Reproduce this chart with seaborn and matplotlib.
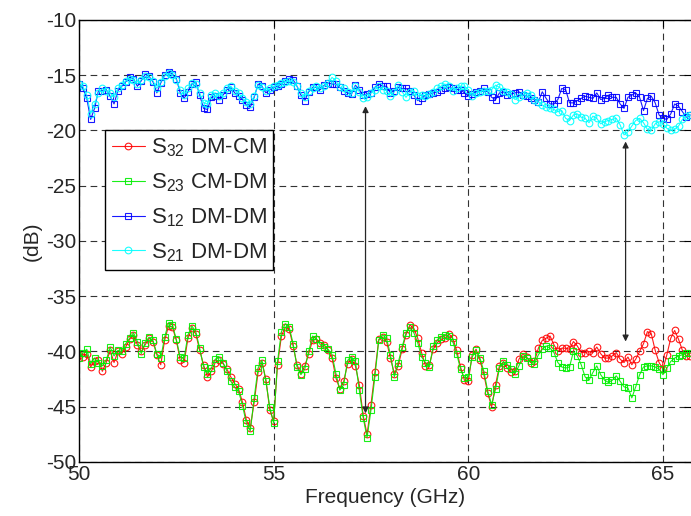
import numpy as np
import pandas as pd
import seaborn as sns
import matplotlib
matplotlib.use("Agg")
import matplotlib.pyplot as plt

# frequency grid, GHz (0.1 GHz step, 50.0 .. 65.7)
freq = np.round(50.0 + 0.1 * np.arange(158), 1)

# S32 DM-CM (red)
s32 = [
    -40.3, -40.5, -40.2, -41.4, -40.9, -40.8, -41.8, -41.0, -39.9, -41.0,
    -40.0, -40.2, -39.6, -38.9, -38.5, -39.4, -40.0, -39.4, -38.8, -39.1,
    -40.3, -41.2, -39.0, -37.7, -37.8, -39.0, -40.8, -41.0, -38.8, -37.9,
    -38.4, -39.9, -41.2, -42.3, -41.8, -41.0, -40.8, -41.1, -41.6, -42.3,
    -42.9, -43.4, -44.6, -46.2, -46.9, -44.6, -41.9, -41.0, -42.5, -45.3,
    -46.3, -41.2, -38.6, -37.8, -38.0, -39.5, -41.2, -42.0, -41.3, -40.2,
    -39.0, -38.9, -39.2, -39.4, -39.9, -40.6, -42.4, -43.4, -42.7, -41.1,
    -40.7, -41.3, -43.0, -45.8, -47.5, -44.8, -41.9, -38.9, -38.7, -39.1,
    -40.6, -42.0, -41.3, -39.8, -38.5, -37.6, -37.9, -38.8, -40.1, -41.3,
    -41.2, -39.8, -39.2, -38.9, -38.8, -38.4, -38.8, -39.9, -41.4, -42.6,
    -42.7, -40.3, -39.8, -40.8, -42.1, -43.8, -45.0, -43.0, -41.3, -41.0,
    -41.5, -41.9, -41.8, -40.7, -40.2, -40.5, -41.0, -40.9, -39.7, -39.0,
    -38.8, -38.6, -39.4, -40.0, -39.7, -39.7, -39.8, -39.1, -39.5, -40.1,
    -40.1, -40.0, -40.1, -39.6, -40.2, -40.6, -40.6, -40.4, -40.1, -40.7,
    -41.0, -40.5, -41.2, -40.7, -40.0, -39.3, -38.2, -38.4, -39.9, -41.0,
    -41.6, -40.3, -38.8, -38.1, -38.9, -39.9, -40.4, -40.4,
]

# S23 CM-DM (green)
s23 = [
    -40.6, -40.1, -39.8, -41.1, -40.6, -41.0, -41.3, -40.8, -39.6, -40.4,
    -39.9, -40.0, -39.3, -38.8, -38.3, -39.1, -40.2, -39.2, -38.7, -39.0,
    -40.2, -40.6, -38.7, -37.4, -37.6, -38.9, -40.5, -40.6, -38.5, -37.7,
    -38.2, -39.7, -41.4, -42.0, -41.5, -40.7, -40.5, -41.0, -41.8, -42.7,
    -43.2, -43.6, -44.9, -46.5, -47.2, -44.2, -41.5, -40.8, -42.7, -45.0,
    -46.5, -40.9, -38.2, -37.5, -37.8, -39.3, -41.4, -42.1, -41.6, -40.0,
    -38.6, -38.9, -39.4, -39.6, -39.8, -40.3, -42.0, -43.5, -43.0, -40.8,
    -40.5, -40.9, -43.5, -46.0, -47.8, -45.3, -42.3, -39.0, -38.5, -38.8,
    -40.3, -42.3, -41.0, -39.6, -38.3, -37.8, -38.3, -39.2, -40.5, -41.0,
    -41.4, -39.5, -39.0, -38.7, -38.5, -38.6, -39.1, -40.2, -41.6, -42.4,
    -42.3, -40.5, -39.9, -40.6, -41.8, -43.6, -44.8, -43.4, -41.5, -40.9,
    -41.2, -41.6, -42.0, -41.3, -40.4, -40.6, -40.9, -41.1, -40.3, -39.8,
    -39.5, -39.7, -40.1, -41.0, -41.4, -41.5, -41.4, -40.0, -40.4, -41.2,
    -42.3, -42.6, -41.9, -41.3, -42.1, -42.6, -42.8, -42.6, -42.2, -42.7,
    -43.2, -43.3, -44.2, -43.2, -42.1, -41.4, -41.3, -41.3, -41.4, -41.6,
    -42.1, -41.5, -40.9, -40.6, -40.4, -40.3, -40.1, -40.1,
]

# S12 DM-DM (blue)
s12 = [
    -15.8, -16.2, -17.1, -19.0, -18.0, -16.4, -16.4, -16.3, -16.9, -17.6,
    -16.4, -16.0, -15.6, -15.2, -15.3, -16.0, -15.5, -14.9, -15.1, -15.6,
    -16.6, -15.7, -15.0, -14.7, -14.9, -15.3, -16.6, -17.1, -16.5, -15.8,
    -15.6, -16.8, -18.0, -18.1, -17.0, -16.9, -17.2, -16.8, -16.3, -16.1,
    -16.6, -16.9, -17.2, -17.7, -17.9, -17.0, -15.8, -16.0, -16.6, -16.3,
    -16.1, -16.0, -15.8, -15.5, -15.3, -15.4, -16.0, -16.8, -17.3, -16.5,
    -16.1, -16.1, -16.3, -15.9, -15.7, -15.8, -15.8, -16.1, -16.4, -16.6,
    -16.7, -15.9, -16.3, -16.8, -16.7, -16.6, -16.1, -15.8, -16.0, -16.0,
    -16.6, -16.4, -16.1, -16.2, -16.2, -16.4, -16.8, -17.3, -17.1, -16.8,
    -16.7, -16.6, -16.5, -16.3, -16.2, -16.1, -16.2, -16.3, -16.3, -16.6,
    -16.9, -16.7, -16.5, -16.4, -16.2, -16.5, -17.0, -17.2, -16.6, -16.5,
    -16.8, -16.7, -16.6, -16.5, -16.8, -16.9, -17.1, -17.2, -17.4, -16.5,
    -17.1, -17.6, -17.6, -17.2, -16.2, -16.3, -17.5, -17.5, -17.3, -17.1,
    -16.9, -17.0, -17.1, -16.6, -17.2, -17.1, -16.8, -17.0, -17.0, -17.6,
    -18.0, -17.0, -16.8, -16.6, -17.0, -18.2, -17.1, -16.9, -17.5, -18.6,
    -18.9, -19.0, -18.5, -17.6, -17.8, -18.3, -18.8, -18.6,
]

# S21 DM-DM (cyan)
s21 = [
    -15.8, -16.0, -16.8, -18.5, -17.6, -16.6, -16.2, -16.4, -16.6, -17.0,
    -16.2, -15.9, -15.5, -15.3, -15.4, -15.8, -15.4, -15.1, -15.2, -15.5,
    -16.2, -15.6, -15.1, -14.8, -15.0, -15.4, -16.3, -16.8, -16.2, -15.7,
    -15.8, -16.6, -17.5, -17.6, -16.8, -16.6, -16.9, -16.6, -16.2, -16.0,
    -16.4, -16.6, -17.1, -17.4, -17.6, -16.9, -15.9, -16.1, -16.4, -16.2,
    -16.0, -15.9, -15.7, -15.6, -15.5, -15.6, -16.0, -16.6, -17.0, -16.4,
    -16.2, -16.0, -16.2, -16.0, -15.7, -15.2, -15.5, -16.1, -16.2, -16.5,
    -16.6, -16.0, -16.5, -17.1, -17.0, -16.6, -16.3, -16.0, -16.3, -16.4,
    -16.9, -16.5, -15.9, -16.5, -17.0, -16.5, -16.4, -16.9, -16.8, -16.9,
    -16.7, -16.5, -16.2, -16.0, -15.8, -16.0, -16.4, -16.2, -16.0, -16.0,
    -16.3, -16.9, -16.6, -16.5, -16.4, -16.4, -16.3, -15.9, -16.1, -16.4,
    -16.5, -16.7, -17.2, -17.0, -16.8, -16.6, -16.8, -17.2, -17.4, -17.7,
    -17.9, -18.0, -18.1, -18.3, -18.2, -18.9, -19.1, -18.6, -18.5, -18.8,
    -18.9, -19.3, -18.7, -18.9, -19.4, -19.2, -19.1, -19.0, -18.9, -19.5,
    -20.4, -20.1, -19.6, -19.1, -18.9, -19.3, -19.9, -20.0, -19.4, -19.2,
    -19.4, -19.8, -20.0, -19.9, -19.6, -19.0, -18.7, -18.6,
]

labels = [r"S$_{\mathregular{32}}$ DM-CM", r"S$_{\mathregular{23}}$ CM-DM",
          r"S$_{\mathregular{12}}$ DM-DM", r"S$_{\mathregular{21}}$ DM-DM"]
colors = ["#ff0000", "#00ee00", "#0000ff", "#00ffff"]
markers = ["o", "s", "s", "o"]

# double arrows: (freq, top dB, bottom dB)
arrows = [(57.36, -17.8, -45.6), (64.04, -21.0, -39.1)]

sns.set_style("white")
plt.rcParams["font.family"] = ["Liberation Sans", "DejaVu Sans"]
plt.rcParams["mathtext.fontset"] = "custom"
plt.rcParams["mathtext.rm"] = "Liberation Sans"
plt.rcParams["mathtext.it"] = "Liberation Sans:italic"
plt.rcParams["axes.unicode_minus"] = False

fig = plt.figure(figsize=(6.91, 5.16), dpi=100)
ax = fig.add_axes([0.1143, 0.1047, 0.8857, 0.8566])

for vals, lab, col, mk in zip([s32, s23, s12, s21], labels, colors, markers):
    df = pd.DataFrame({"f": freq, "v": vals})
    sns.lineplot(data=df, x="f", y="v", ax=ax, color=col, lw=0.8,
                 marker=mk, ms=4.8, mfc="none", mec=col, mew=0.8,
                 label=lab, alpha=0.9)

for fx, top, bot in arrows:
    ax.annotate("", xy=(fx, top), xytext=(fx, bot),
                arrowprops=dict(arrowstyle="<|-|>", color="0.15", lw=0.9,
                                mutation_scale=9, shrinkA=0, shrinkB=0))

ax.set_xlim(50, 65.72)
ax.set_ylim(-50, -10)
ax.set_xticks([50, 55, 60, 65])
ax.set_yticks(np.arange(-50, -9, 5))
ax.grid(True, color="0.2", linestyle=(0, (6, 4)), lw=0.8)
ax.tick_params(direction="in", top=True, right=True, length=5,
               labelsize=15, pad=2, color="black")
for side in ["left", "bottom", "top"]:
    ax.spines[side].set_color("black")
    ax.spines[side].set_linewidth(1.0)
ax.spines["right"].set_visible(False)

ax.set_xlabel("Frequency (GHz)", fontsize=15, labelpad=3)
ax.set_ylabel("(dB)", fontsize=15, labelpad=3)

leg = ax.legend(loc="upper left", bbox_to_anchor=(0.0425, 0.751),
                borderaxespad=0, fontsize=16, frameon=True, fancybox=False,
                handlelength=1.5, handletextpad=0.25, labelspacing=0.55,
                borderpad=0.3)
leg.get_frame().set_edgecolor("black")
leg.get_frame().set_linewidth(1.0)
leg.get_frame().set_alpha(1)

fig.savefig("out.png", dpi=100)
